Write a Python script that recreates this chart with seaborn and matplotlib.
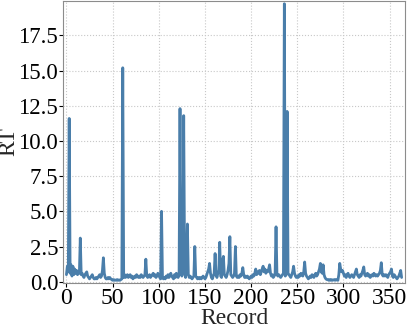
import numpy as np
import pandas as pd
import matplotlib
matplotlib.use("Agg")
import matplotlib.pyplot as plt
import seaborn as sns

# response time per record
rt = [
    0.5, 1.1, 0.7, 11.6, 0.6, 1.2, 0.4, 1.1, 0.5, 0.9,
    0.6, 0.8, 0.5, 0.7, 0.6, 3.1, 0.5, 0.6, 0.4, 0.3,
    0.5, 0.6, 0.7, 0.4, 0.3, 0.2, 0.3, 0.4, 0.5, 0.3,
    0.2, 0.2, 0.3, 0.2, 0.3, 0.4, 0.5, 0.3, 0.4, 0.8,
    1.7, 0.6, 0.3, 0.2, 0.2, 0.3, 0.2, 0.3, 0.2, 0.15,
    0.1, 0.15, 0.1, 0.12, 0.1, 0.15, 0.1, 0.12, 0.1, 0.15,
    0.2, 15.2, 0.3, 0.5, 0.3, 0.4, 0.5, 0.3, 0.4, 0.5,
    0.3, 0.4, 0.2, 0.3, 0.4, 0.3, 0.5, 0.4, 0.3, 0.4,
    0.3, 0.5, 0.4, 0.3, 0.4, 0.5, 1.6, 0.4, 0.3, 0.4,
    0.5, 0.3, 0.4, 0.5, 0.6, 0.4, 0.5, 0.3, 0.4, 0.6,
    0.5, 0.3, 0.2, 5.0, 0.3, 0.2, 0.3, 0.2, 0.4, 0.3,
    0.5, 0.3, 0.4, 0.6, 0.4, 0.3, 0.2, 0.5, 0.3, 0.6,
    0.4, 0.3, 0.5, 12.3, 0.8, 0.4, 1.0, 11.8, 0.6, 0.3,
    1.2, 4.1, 0.5, 0.3, 0.4, 0.3, 0.2, 0.3, 0.4, 2.5,
    0.4, 0.3, 0.2, 0.3, 0.2, 0.3, 0.2, 0.3, 0.4, 0.3,
    0.2, 0.3, 0.5, 0.7, 0.9, 1.3, 0.6, 0.3, 0.2, 0.4,
    0.6, 2.0, 0.5, 0.3, 0.6, 0.8, 2.8, 0.4, 0.3, 1.5,
    1.8, 0.5, 0.4, 0.3, 0.5, 0.8, 1.3, 3.2, 0.5, 0.4,
    0.3, 0.4, 0.6, 2.5, 0.4, 0.3, 0.4, 0.3, 0.5, 0.4,
    0.6, 1.0, 0.5, 0.3, 0.4, 0.3, 0.4, 0.3, 0.2, 0.3,
    0.4, 0.3, 0.5, 0.4, 0.6, 0.9, 0.5, 0.7, 0.6, 0.8,
    0.5, 0.7, 0.9, 1.1, 0.7, 0.9, 0.6, 0.8, 0.7, 0.9,
    1.2, 0.6, 0.4, 0.5, 0.3, 0.4, 0.6, 3.9, 0.5, 0.4,
    0.5, 0.4, 0.3, 0.4, 0.5, 0.6, 19.75, 0.4, 0.5, 12.1,
    0.6, 0.5, 0.4, 0.3, 0.5, 0.7, 1.1, 0.6, 0.4, 0.3,
    0.4, 0.3, 0.5, 0.4, 0.6, 0.5, 0.4, 0.7, 1.4, 0.6,
    0.4, 0.3, 0.2, 0.3, 0.4, 0.3, 0.5, 0.4, 0.3, 0.5,
    0.6, 0.4, 0.5, 0.7, 0.9, 1.3, 0.7, 0.6, 1.2, 0.5,
    0.3, 0.2, 0.15, 0.15, 0.1, 0.15, 0.1, 0.15, 0.1, 0.12,
    0.15, 0.1, 0.15, 0.12, 0.1, 0.5, 1.3, 0.9, 0.7, 0.8,
    0.6, 0.4, 0.5, 0.3, 0.5, 0.6, 0.4, 0.3, 0.4, 0.5,
    0.4, 0.3, 0.5, 0.7, 0.9, 0.5, 0.4, 0.3, 0.5, 0.4,
    0.6, 0.8, 1.05, 0.5, 0.4, 0.5, 0.6, 0.4, 0.5, 0.3,
    0.4, 0.5, 0.4, 0.6, 0.5, 0.4, 0.5, 0.4, 0.5, 0.6,
    0.8, 1.35, 0.5, 0.4, 0.5, 0.4, 0.5, 0.4, 0.3, 0.5,
    0.6, 0.7, 0.9, 0.4, 0.3, 0.5, 0.4, 0.3, 0.2, 0.3,
    0.4, 0.6, 0.8, 0.3,
]
record = list(range(len(rt)))

sns.set_style("whitegrid", {
    "grid.linestyle": ":",
    "grid.color": "#c8c8c8",
    "axes.edgecolor": "#8c8c8c",
    "xtick.bottom": True,
    "ytick.left": True,
})
plt.rcParams['font.family'] = ['Liberation Serif', 'DejaVu Serif']
plt.rcParams['xtick.major.size'] = 3
plt.rcParams['ytick.major.size'] = 3
plt.rcParams['xtick.color'] = 'black'
plt.rcParams['ytick.color'] = 'black'

df = pd.DataFrame({'Record': record, 'RT': rt})

fig, ax = plt.subplots(figsize=(4.07, 3.28), dpi=100)
sns.lineplot(data=df, x='Record', y='RT', color='#4a7eaa', linewidth=2.0, ax=ax)
ax.margins(0.01)
ax.set_xticks([0, 50, 100, 150, 200, 250, 300, 350])
ax.set_yticks(np.arange(0, 17.6, 2.5))
ax.tick_params(axis='x', labelsize=17, pad=0.5)
ax.tick_params(axis='y', labelsize=16.5, pad=0.5)
ax.set_xlabel('Record', fontsize=17)
ax.set_ylabel('RT', fontsize=17)
ax.xaxis.set_label_coords(0.5, -0.125)
ax.yaxis.set_label_coords(-0.158, 0.5)
ax.xaxis.label.set_va('center')
ax.yaxis.label.set_va('center')
fig.subplots_adjust(left=0.155, right=0.995, top=0.997, bottom=0.137)
fig.savefig('out.png', dpi=100)
plt.close(fig)
